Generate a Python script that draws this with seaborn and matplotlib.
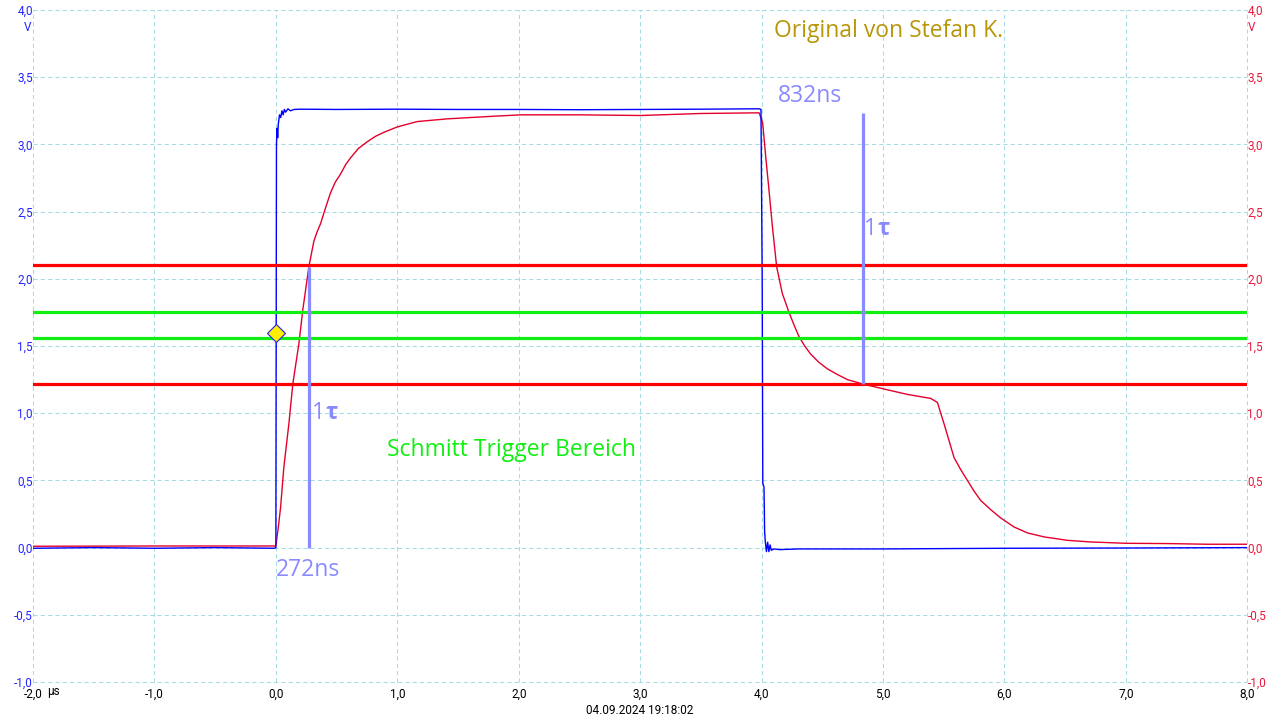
import pandas as pd
import seaborn as sns
import matplotlib.pyplot as plt

# channel A (blue), gate input
blue_t = [-2.0, -1.5, -1.0, -0.5, -0.01, 0.0, 0.005, 0.01, 0.015, 0.02, 0.03, 0.04, 0.05, 0.06,
          0.07, 0.08, 0.1, 0.12, 0.15, 0.2, 0.5, 1.0, 1.5, 2.0, 2.5, 3.0, 3.5, 3.98, 3.995, 4.005,
          4.01, 4.02, 4.025, 4.03, 4.04, 4.05, 4.06, 4.07, 4.08, 4.1, 4.15, 4.3, 5.0, 6.0, 7.0, 8.0]
blue_u = [-0.005, 0.0, -0.005, 0.0, -0.005, 0.0, 3.0, 3.12, 3.05, 3.15, 3.22, 3.2, 3.25, 3.22,
          3.26, 3.24, 3.265, 3.25, 3.26, 3.262, 3.26, 3.262, 3.26, 3.26, 3.258, 3.26, 3.262, 3.265, 3.26, 2.0,
          0.48, 0.45, 0.12, 0.05, -0.03, 0.04, -0.03, 0.02, -0.02, -0.01, -0.015, -0.01, -0.01, -0.005, -0.003, 0.0]

# channel B (red), RC node
red_t = [-2.0, -1.0, 0.0, 0.02, 0.039, 0.066, 0.107, 0.14, 0.19, 0.222, 0.272, 0.313, 0.34, 0.368, 0.41, 0.45,
         0.49, 0.533, 0.575, 0.615, 0.68, 0.753, 0.82, 0.89, 1.0, 1.165, 1.41, 1.8, 2.02, 2.5, 3.0, 3.5, 3.98, 4.009, 4.034,
         4.061, 4.089, 4.124, 4.171, 4.226, 4.27, 4.308, 4.355, 4.404, 4.47, 4.542, 4.62, 4.707, 4.822, 5.008, 5.2, 5.393,
         5.448, 5.503, 5.585, 5.64, 5.695, 5.75, 5.805, 5.89, 5.97, 6.08, 6.19, 6.33, 6.52, 6.71, 7.0, 7.34, 7.67, 8.0]
red_u = [0.01, 0.012, 0.012, 0.15, 0.30, 0.60, 0.92, 1.22, 1.52, 1.77, 2.09, 2.28, 2.35, 2.41, 2.53, 2.64,
         2.72, 2.78, 2.85, 2.90, 2.97, 3.02, 3.06, 3.09, 3.13, 3.17, 3.19, 3.21, 3.22, 3.22, 3.215, 3.23, 3.235, 3.16, 2.91,
         2.66, 2.39, 2.09, 1.89, 1.75, 1.65, 1.57, 1.50, 1.44, 1.38, 1.33, 1.29, 1.25, 1.22, 1.18, 1.14, 1.11,
         1.08, 0.92, 0.67, 0.58, 0.50, 0.42, 0.35, 0.28, 0.22, 0.153, 0.109, 0.079, 0.054, 0.042, 0.032, 0.03, 0.025, 0.025]

red_levels = [2.1, 1.22]
green_levels = [1.755, 1.56]

tau_t = [0.272, 4.832]
tau_lo = [0.0, 1.22]
tau_hi = [2.09, 3.23]

trig_t = [0.0]
trig_u = [1.6]

x_ticks = [-2.0, -1.0, 0.0, 1.0, 2.0, 3.0, 4.0, 5.0, 6.0, 7.0, 8.0]
y_ticks = [-1.0, -0.5, 0.0, 0.5, 1.0, 1.5, 2.0, 2.5, 3.0, 3.5, 4.0]

blue_df = pd.DataFrame({"t": blue_t, "u": blue_u})
red_df = pd.DataFrame({"t": red_t, "u": red_u})

sns.set_theme(style="white")
plt.rcParams["font.family"] = ["Roboto", "DejaVu Sans"]

fig = plt.figure(figsize=(12.8, 7.2), dpi=100)
ax = fig.add_axes([33 / 1280, 1 - 682 / 720, (1247.3 - 33) / 1280, (682 - 10) / 720])

ax.set_xlim(-2.0, 8.0)
ax.set_ylim(-1.0, 4.0)
for s in ax.spines.values():
    s.set_visible(False)

ax.set_xticks(x_ticks)
ax.set_xticklabels([f"{v:.1f}".replace(".", ",") for v in x_ticks], fontsize=8.5, color="black")
ax.set_yticks(y_ticks)
ax.set_yticklabels([f"{v:.1f}".replace(".", ",") for v in y_ticks], fontsize=8.5, color="#2424ff")
ax.tick_params(axis="both", length=0)
ax.tick_params(axis="y", pad=0)
ax.tick_params(axis="x", pad=4)
ax.grid(True, color="#a6dbe4", linestyle=(0, (4, 3)), linewidth=0.75)
for gl in ax.get_xgridlines() + ax.get_ygridlines():
    gl.set_clip_on(False)

ax2 = ax.twinx()
ax2.set_ylim(-1.0, 4.0)
for s in ax2.spines.values():
    s.set_visible(False)
ax2.set_yticks(y_ticks)
ax2.set_yticklabels([f"{v:.1f}".replace(".", ",") for v in y_ticks], fontsize=8.5, color="#e8183c")
ax2.tick_params(axis="y", length=0, pad=0)
ax2.grid(False)

sns.lineplot(data=red_df, x="t", y="u", estimator=None, sort=False, color="#e4002b", lw=1.0, ax=ax, zorder=3)
sns.lineplot(data=blue_df, x="t", y="u", estimator=None, sort=False, color="#0000ff", lw=1.0, ax=ax, zorder=4)

for lv in red_levels:
    ax.axhline(lv, color="#ff0000", lw=2.3, zorder=5)
for lv in green_levels:
    ax.axhline(lv, color="#11ee11", lw=2.3, zorder=5)

ax.vlines(tau_t, tau_lo, tau_hi, color="#8a8aff", lw=2.3, zorder=6)
ax.plot(trig_t, trig_u, marker="D", ms=9, mfc="#ffee00", mec="#2020ff", mew=0.8, ls="none", zorder=7)

ax.set_xlabel("")
ax.set_ylabel("")

lab = dict(fontfamily=["Open Sans", "Noto Sans", "DejaVu Sans"], fontsize=16.5, va="center", ha="left")
ax.text(0.0, -0.165, "272ns", color="#8a8aff", **lab)
ax.text(0.3, 1.0, "1", color="#8a8aff", **lab)
ax.text(0.41, 1.0, "\u03c4", color="#8a8aff", fontweight="bold", **lab)
ax.text(4.135, 3.36, "832ns", color="#8a8aff", **lab)
ax.text(4.84, 2.37, "1", color="#8a8aff", **lab)
ax.text(4.955, 2.37, "\u03c4", color="#8a8aff", fontweight="bold", **lab)
ax.text(0.915, 0.725, "Schmitt Trigger Bereich", color="#11ee11", **lab)
ax.text(4.1, 3.845, "Original von Stefan K.", color="#b8960a", **lab)

fig.text(47 / 1280, 1 - 692 / 720, "\u00b5s", fontsize=8.5, color="black", ha="left", va="center")
fig.text(31 / 1280, 1 - 27.5 / 720, "V", fontsize=8.5, color="#2424ff", ha="right", va="center")
fig.text(1248 / 1280, 1 - 27.5 / 720, "V", fontsize=8.5, color="#e8183c", ha="left", va="center")
fig.text(640 / 1280, 1 - 711 / 720, "04.09.2024 19:18:02", fontsize=8.5, color="black", ha="center", va="center")

fig.savefig("out.png", dpi=100)
